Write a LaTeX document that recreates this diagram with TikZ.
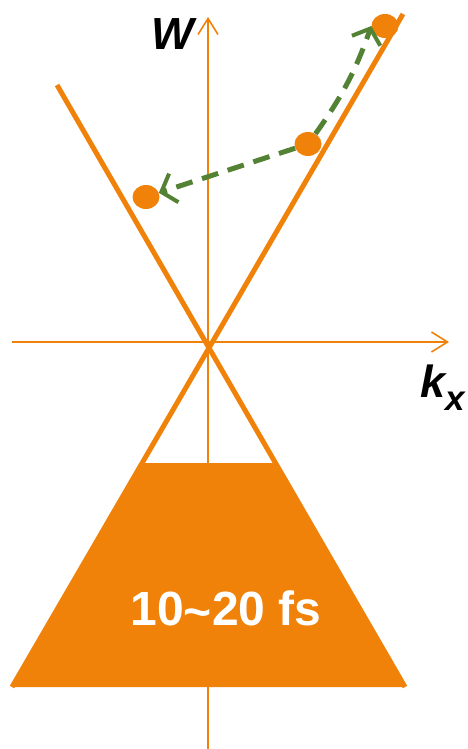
\documentclass[tikz,border=0pt]{standalone}
\usepackage{fontspec}
\setmainfont{Liberation Sans}
\usetikzlibrary{arrows.meta,shapes.geometric}
\definecolor{orng}{RGB}{240,130,10}
\definecolor{grn}{RGB}{84,130,53}
\tikzset{
  axisline/.style={draw=orng, line width=1.8pt, -{Straight Barb[length=16pt,width=20pt,line width=1.6pt]}},
  coneline/.style={draw=orng, line width=5pt},
  dot/.style={ellipse, fill=orng, minimum width=27pt, minimum height=24pt, inner sep=0pt},
  hop/.style={draw=grn, line width=5pt, dash pattern=on 17pt off 10pt, -{Straight Barb[length=13pt,width=30pt,line width=4pt]}},
  lbl/.style={font=\fontsize{45}{50}\selectfont\bfseries\itshape, inner sep=0pt}
}
\begin{document}
\begin{tikzpicture}[x=1pt,y=-1pt]
\useasboundingbox (0,0) rectangle (467,749);
% axes
\coordinate (vb) at (208,749);
\coordinate (vt) at (208,17);
\coordinate (hl) at (12,342);
\coordinate (hr) at (449,342);
\draw[axisline] (vb) -- (vt);
\draw[axisline] (hl) -- (hr);
% trapezoid (pulse)
\coordinate (t1) at (142,463);
\coordinate (t2) at (274,463);
\coordinate (t3) at (405,687);
\coordinate (t4) at (12,687);
\fill[orng] (t1) -- (t2) -- (t3) -- (t4) -- cycle;
% cone lines
\coordinate (a1) at (57,85);
\coordinate (a2) at (405,687);
\coordinate (b1) at (403,14);
\coordinate (b2) at (12,687);
\draw[coneline] (a1) -- (a2);
\draw[coneline] (b1) -- (b2);
% dots
\node[dot] (d1) at (385,26) {};
\node[dot] (d2) at (308,144) {};
\node[dot] (d3) at (146,197) {};
% hops
\draw[hop] (d2) to[bend right=8] (d1.west);
\draw[hop] (d2) -- (d3);
% labels
\node[lbl, anchor=center] (w) at (173,34) {W};
\node[lbl, anchor=base west] (k) at (420,397) {k\raisebox{-13pt}{\fontsize{35}{40}\selectfont x}};
\node[font=\fontsize{48}{52}\selectfont\bfseries, text=white, inner sep=0pt] (pl) at (226,610) {10\raisebox{-3pt}{\char`~}20 fs};
\end{tikzpicture}
\end{document}
